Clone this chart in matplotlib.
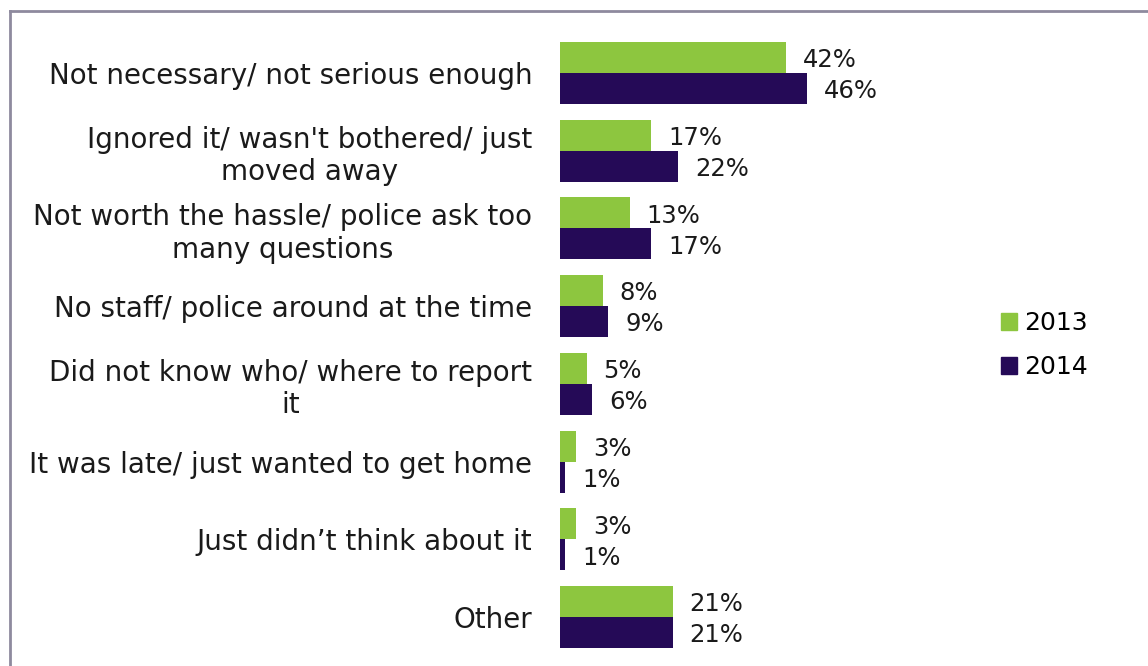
import matplotlib
matplotlib.use("Agg")
import matplotlib.pyplot as plt
from matplotlib.patches import Patch
from matplotlib.lines import Line2D
import numpy as np

categories = [
    "Not necessary/ not serious enough",
    "Ignored it/ wasn't bothered/ just\nmoved away",
    "Not worth the hassle/ police ask too\nmany questions",
    "No staff/ police around at the time",
    "Did not know who/ where to report\nit",
    "It was late/ just wanted to get home",
    "Just didn\u2019t think about it",
    "Other",
]
vals_2013 = [42, 17, 13, 8, 5, 3, 3, 21]
vals_2014 = [46, 22, 17, 9, 6, 1, 1, 21]

green = "#8DC63F"
purple = "#250A57"
txt = "#1a1a1a"
cat_size = 20
val_size = 17.5

plt.rcParams["font.family"] = ["DejaVu Sans"]

W, H = 1148, 666
fig = plt.figure(figsize=(W / 100, H / 100), dpi=100)
ax = fig.add_axes([560 / W, 10 / H, 269 / W, 622 / H])

y = np.arange(len(categories))
h = 0.4
ax.barh(y - h / 2, vals_2013, height=h, color=green, label="2013")
ax.barh(y + h / 2, vals_2014, height=h, color=purple, label="2014")

for yi, v in zip(y, vals_2013):
    ax.annotate(f"{v}%", (v, yi - h / 2), xytext=(12, -2), textcoords="offset points",
                va="center", ha="left", fontsize=val_size, color=txt)
for yi, v in zip(y, vals_2014):
    ax.annotate(f"{v}%", (v, yi + h / 2), xytext=(12, -2), textcoords="offset points",
                va="center", ha="left", fontsize=val_size, color=txt)

ax.set_xlim(0, 50)
ax.set_ylim(len(categories) - 0.5, -0.5)
ax.set_yticks(y)
ax.set_yticklabels(categories, fontsize=cat_size, color=txt, multialignment="center")
ax.tick_params(axis="y", length=0, pad=20)
ax.set_xticks([])
for s in ax.spines.values():
    s.set_visible(False)

handles = [Patch(color=green, label="2013"), Patch(color=purple, label="2014")]
fig.legend(handles=handles, loc="center left", bbox_to_anchor=(978 / W, 1 - 345 / H),
           frameon=False, fontsize=18, handlelength=0.65, handleheight=0.65,
           handletextpad=0.3, labelspacing=0.8)

# outer frame (top and left edges only visible)
fig.add_artist(Line2D([9.5 / W, 9.5 / W], [0, 1 - 11 / H], color="#8E8A9E", lw=2))
fig.add_artist(Line2D([9.5 / W, 1], [1 - 11 / H, 1 - 11 / H], color="#8E8A9E", lw=2))

fig.savefig("out.png", dpi=100)
